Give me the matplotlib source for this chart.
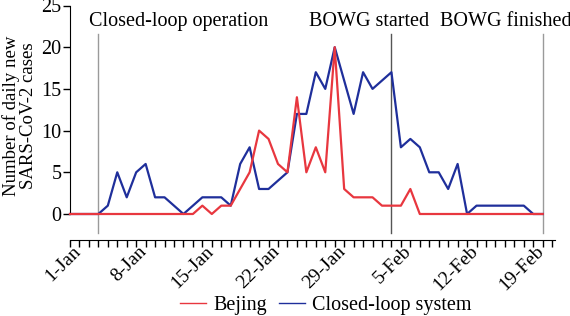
import matplotlib
matplotlib.use("Agg")
import matplotlib.pyplot as plt
import matplotlib.transforms as mtransforms
from matplotlib.lines import Line2D
from matplotlib.ticker import MultipleLocator

plt.rcParams['font.family'] = ['Liberation Serif', 'DejaVu Serif']
plt.rcParams['font.size'] = 14.5

# day index 0 = 1-Jan, 50 = 20-Feb
closed_loop = [0, 0, 0, 0, 1, 5, 2, 5, 6, 2, 2, 1, 0, 1, 2, 2, 2, 1, 6, 8,
               3, 3, 4, 5, 12, 12, 17, 15, 20, 16, 12, 17, 15, 16, 17, 8, 9, 8, 5, 5,
               3, 6, 0, 1, 1, 1, 1, 1, 1, 0, 0]
beijing = [0, 0, 0, 0, 0, 0, 0, 0, 0, 0, 0, 0, 0, 0, 1, 0, 1, 1, 3, 5,
           10, 9, 6, 5, 14, 5, 8, 5, 20, 3, 2, 2, 2, 1, 1, 1, 3, 0, 0, 0,
           0, 0, 0, 0, 0, 0, 0, 0, 0, 0, 0]
tick_days = [0, 7, 14, 21, 28, 35, 42, 49]
tick_labels = ['1-Jan', '8-Jan', '15-Jan', '22-Jan', '29-Jan', '5-Feb', '12-Feb', '19-Feb']
events = [3, 34, 50]
event_labels = ['Closed-loop operation', 'BOWG started', 'BOWG finished']
event_text_x = [2.0, 25.3, 39.1]
event_colors = ['#9a9a9a', '#555555', '#9a9a9a']

blue = '#1f2f9b'
red = '#e8373f'

fig = plt.figure(figsize=(5.7, 3.16), dpi=100)
ax = fig.add_axes([70 / 570, 1 - 214 / 316, 485 / 570, 208.5 / 316])

ax.spines['top'].set_visible(False)
ax.spines['right'].set_visible(False)
ax.spines['bottom'].set_position(('outward', 19))

days = list(range(len(closed_loop)))
ax.plot(days, closed_loop, color=blue, lw=1.6, clip_on=False, zorder=3)
ax.plot(days, beijing, color=red, lw=1.6, clip_on=False, zorder=4)

for d, c in zip(events, event_colors):
    ax.plot([d, d], [-2.3, 21.6], color=c, lw=1.0, clip_on=False, zorder=2)
for tx, lab in zip(event_text_x, event_labels):
    ax.text(tx, 23.1, lab, ha='left', va='center', clip_on=False)

ax.set_xlim(0, 51.3)
ax.set_ylim(0, 25)
ax.set_yticks([0, 5, 10, 15, 20, 25])
ax.set_xticks(tick_days)
ax.set_xticklabels(tick_labels, rotation=45, ha='right', va='top',
                   rotation_mode='anchor', fontsize=14)
ax.xaxis.set_minor_locator(MultipleLocator(1))

ax.tick_params(axis='x', which='both', direction='out', length=5, width=1, pad=2)
ax.tick_params(axis='y', direction='out', length=5, width=1, pad=1)

shift = mtransforms.ScaledTranslation(1.5 / 72, 5.5 / 72, fig.dpi_scale_trans)
for lab in ax.get_xticklabels():
    lab.set_transform(lab.get_transform() + shift)

fig.text(20 / 570, 1 - 116 / 316, 'Number of daily new\nSARS-CoV-2 cases',
         rotation=90, ha='center', va='center', fontsize=13.5,
         linespacing=1.0, multialignment='center')

handles = [Line2D([], [], color=red, lw=1),
           Line2D([], [], color=blue, lw=1)]
fig.legend(handles, ['Bejing', 'Closed-loop system'], loc='center',
           bbox_to_anchor=(326 / 570, 1 - 305 / 316), ncol=2, frameon=False,
           handlelength=1.3, handletextpad=0.35, columnspacing=0.6,
           borderpad=0, borderaxespad=0)

fig.savefig('out.png', dpi=100)
